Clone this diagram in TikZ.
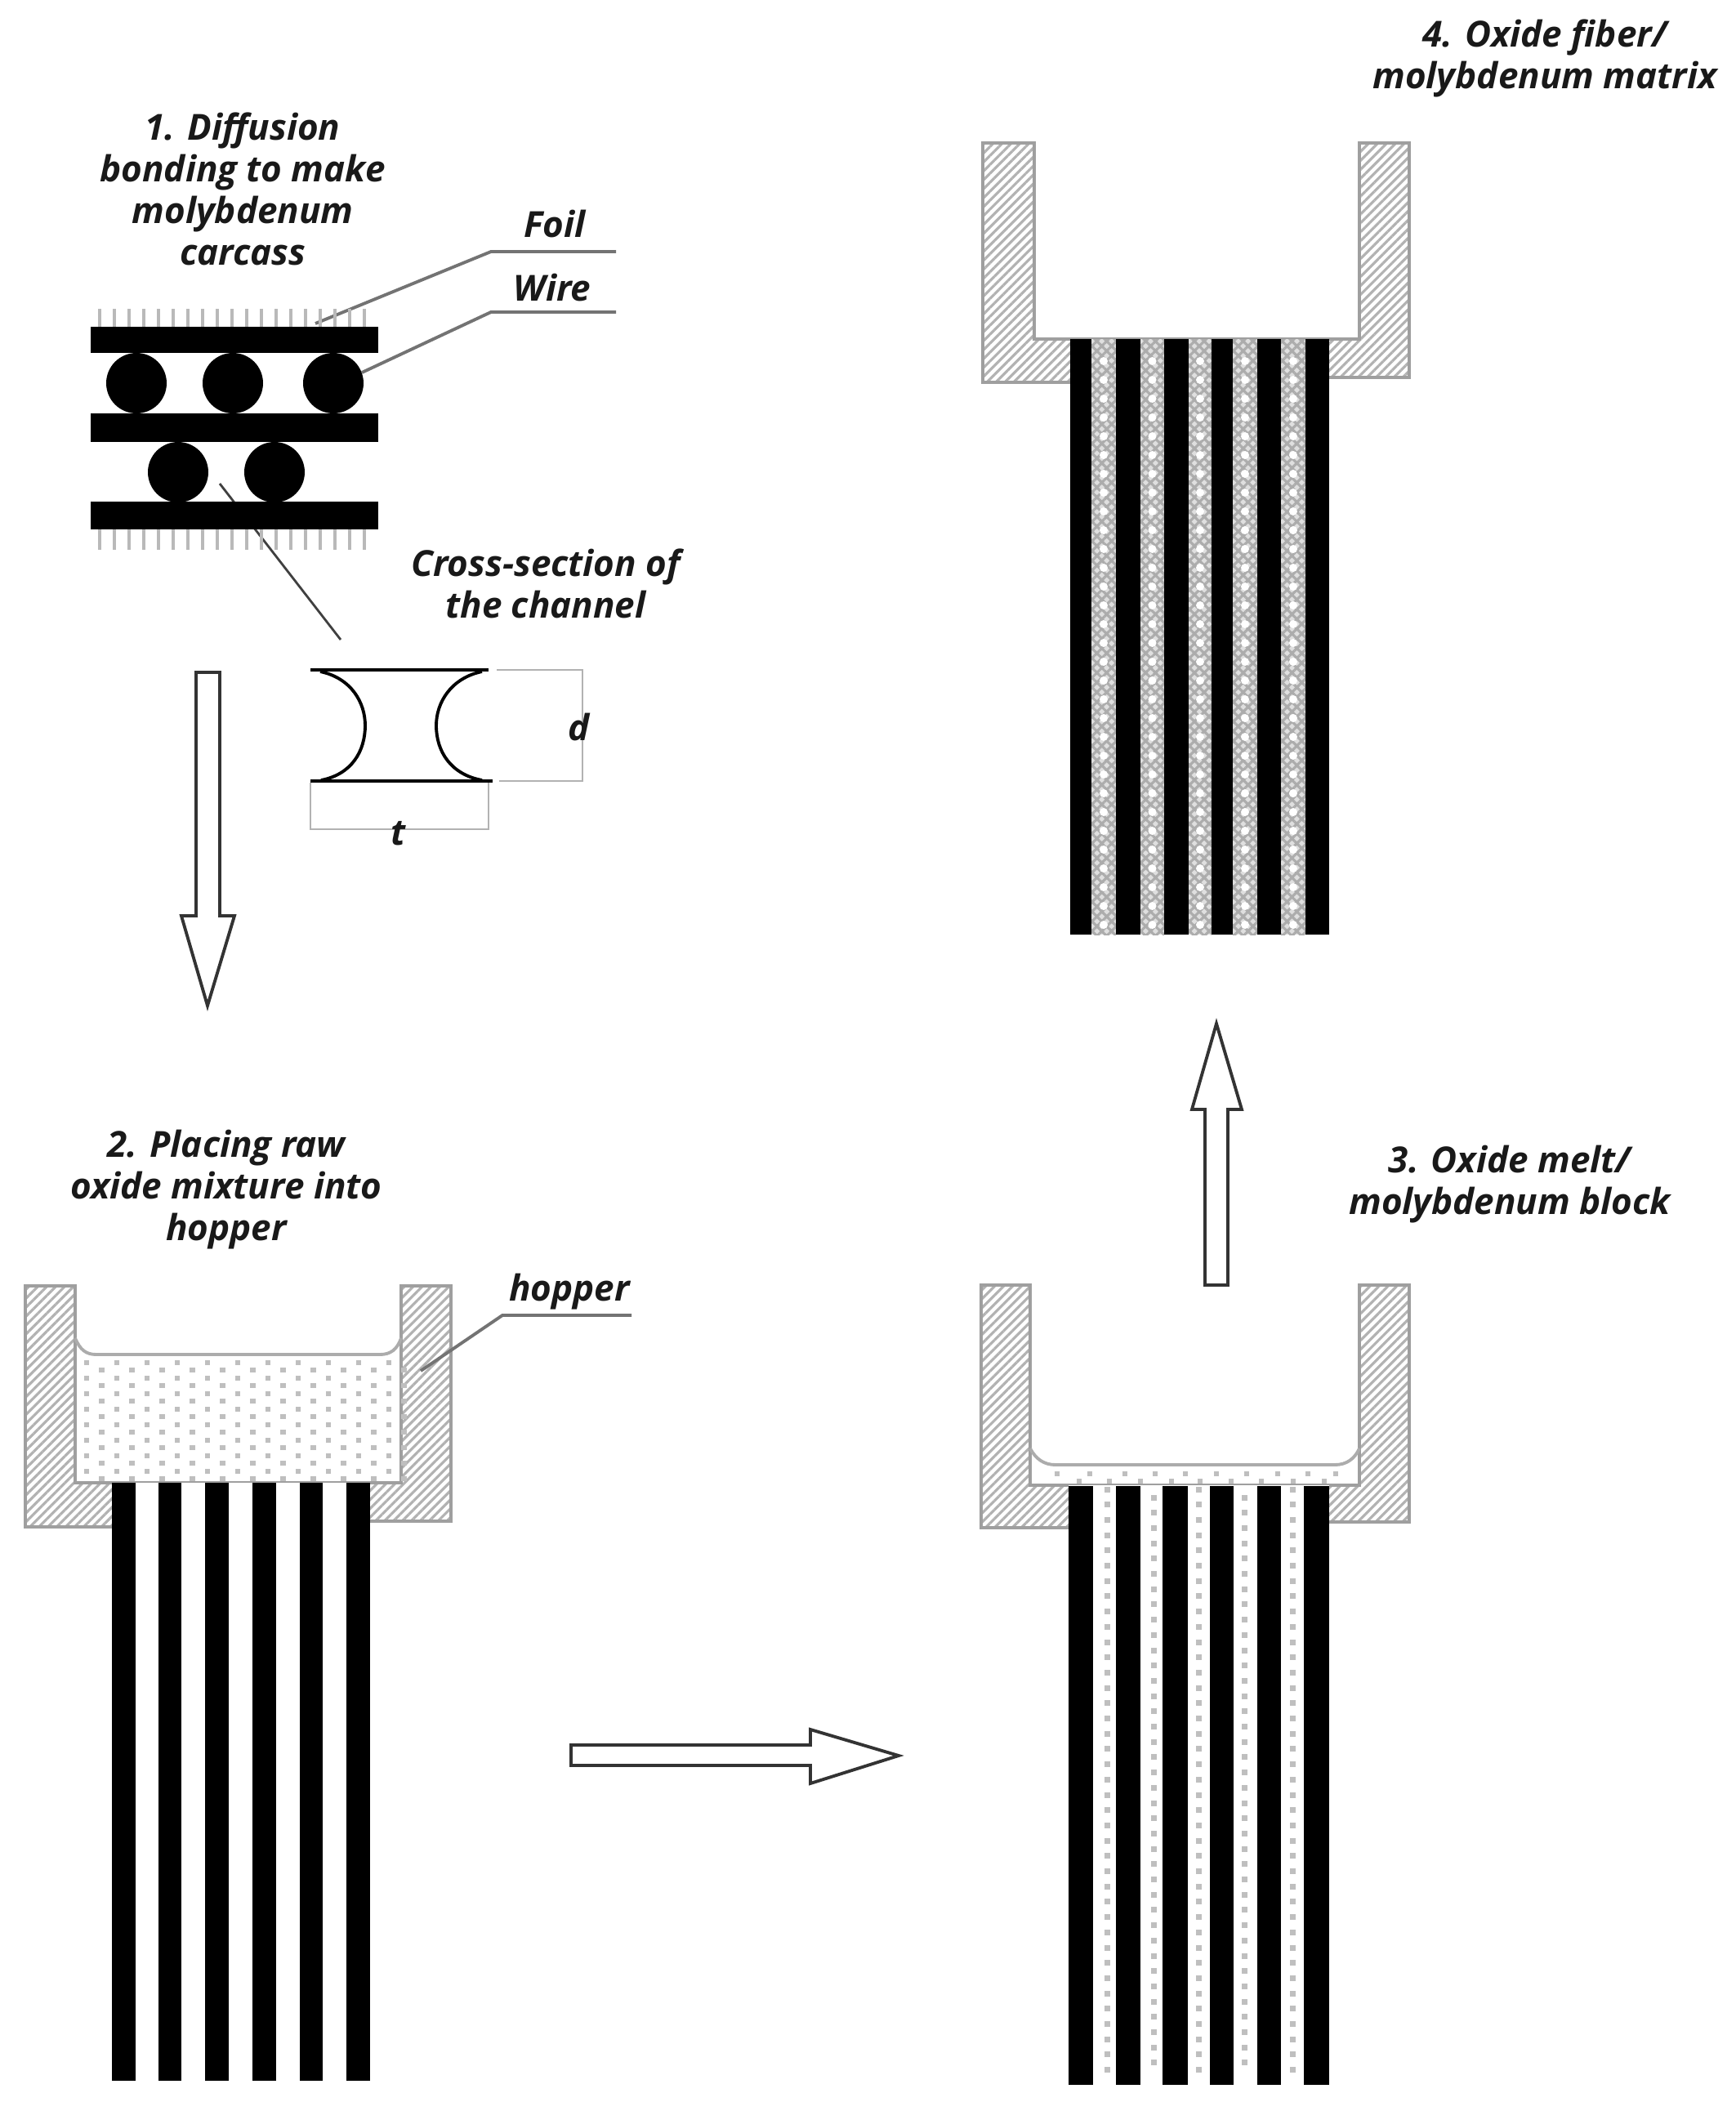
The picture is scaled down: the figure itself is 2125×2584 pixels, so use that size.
\documentclass[tikz,border=0pt]{standalone}
\usepackage{fontspec}
\setmainfont{Open Sans}
\usetikzlibrary{patterns.meta}

\begin{document}
\begin{tikzpicture}[x=0.01cm,y=-0.01cm,
    steptext/.style={align=center, inner sep=0pt, text=black!90, font=\fontsize{12.5}{14.5}\selectfont\itshape\bfseries},
    leader/.style={draw=black!55, line width=1.1pt},
    dimline/.style={draw=gray!60, line width=0.8pt},
    hairline/.style={draw=gray!55, line width=1.2pt},
    hollowarrow/.style={draw=black!80, fill=white, line width=1.1pt, line join=miter},
    hatchwall/.style={draw=gray!75, line width=1.2pt, pattern={Lines[angle=45,distance=2.2pt,line width=0.9pt]}, pattern color=gray!60},
    crosswall/.style={pattern={Hatch[angle=45,distance=2.4pt,line width=0.9pt]}, pattern color=gray!65},
    grain/.style={fill=gray!50},
    meltline/.style={draw=gray!65, line width=1.1pt}]
    \useasboundingbox (0,0) rectangle (2125,2584);

    % Leaders (the channel one runs behind the foil)
    \coordinate (foilend) at (386,396);
    \coordinate (foilknee) at (601,308);
    \coordinate (foilrule) at (754,308);
    \coordinate (wireend) at (443,456);
    \coordinate (wireknee) at (601,382);
    \coordinate (wirerule) at (754,382);
    \coordinate (channelstart) at (269,592);
    \coordinate (channelend) at (417,783);
    \draw[draw=black!75, line width=0.8pt] (channelstart) -- (channelend);
    \draw[leader] (foilend) -- (foilknee) -- (foilrule);
    \draw[leader] (wireend) -- (wireknee) -- (wirerule);

    % Carcass
    \foreach \x in {122,140,...,462} {
        \draw[hairline] (\x,378) -- (\x,400);
        \draw[hairline] (\x,648) -- (\x,673);
    }
    \fill (111,400) rectangle (463,432);
    \fill (111,506) rectangle (463,541);
    \fill (111,614) rectangle (463,648);
    \foreach \x in {167,285,408} \fill (\x,469) circle[radius=37];
    \foreach \x in {218,336} \fill (\x,578) circle[radius=37];

    % Cross-section of the channel
    \draw[black, line width=1.4pt] (380,820) -- (598,820);
    \draw[black, line width=1.4pt] (380,956) -- (603,956);
    \draw[black, line width=1.1pt] (392,822) .. controls (430,830) and (447,860) .. (447,888) .. controls (447,920) and (430,948) .. (393,955);
    \draw[black, line width=1.1pt] (590,822) .. controls (552,830) and (534,860) .. (534,888) .. controls (534,920) and (552,948) .. (590,955);
    \draw[dimline] (608,820) -- (713,820) -- (713,956) -- (611,956);
    \draw[dimline] (380,958) -- (380,1015) -- (598,1015) -- (598,958);

    % Hopper, step 2
    \draw[hatchwall] (31,1574) -- (92,1574) -- (92,1815) -- (491,1815) -- (491,1574) -- (552,1574) -- (552,1862) -- (300,1862) -- (300,1869) -- (31,1869) -- cycle;
    \foreach \xg in {106,143,...,480} \foreach \yg in {1668,1687,...,1812} {
        \fill[grain] (\xg-3.2,\yg-3.2) rectangle (\xg+3.2,\yg+3.2);
        \fill[grain] (\xg+15.3,\yg+6) rectangle (\xg+21.7,\yg+12.4);
    }
    \draw[meltline] (92,1638) .. controls (98,1652) and (105,1658) .. (118,1658) -- (465,1658) .. controls (478,1658) and (486,1652) .. (491,1638);
    \fill[white] (137,1815) rectangle (453,1875);
    \foreach \xa/\xb in {137/166,194/222,251/280,309/338,367/395,424/453}
        \fill (\xa,1815) rectangle (\xb,2547);
    \coordinate (hopperend) at (515,1678);
    \coordinate (hopperknee) at (615,1610);
    \coordinate (hopperrule) at (773,1610);
    \draw[leader] (hopperend) -- (hopperknee) -- (hopperrule);

    % Hopper, step 3
    \draw[hatchwall] (1201,1573) -- (1261,1573) -- (1261,1818) -- (1664,1818) -- (1664,1573) -- (1725,1573) -- (1725,1863) -- (1450,1863) -- (1450,1870) -- (1201,1870) -- cycle;
    \draw[meltline] (1261,1773) .. controls (1268,1786) and (1278,1793) .. (1292,1793) -- (1634,1793) .. controls (1648,1793) and (1658,1786) .. (1664,1773);
    \foreach \xg in {1294,1334,1377,1414,1451,1489,1526,1564,1601,1635}
        \fill[grain] (\xg-3.2,1800.8) rectangle (\xg+3.2,1807.2);
    \foreach \xg in {1321,1358,1396,1434,1469,1507,1544,1583,1621}
        \fill[grain] (\xg-3.2,1809.8) rectangle (\xg+3.2,1816.2);
    \fill[white] (1308,1818) rectangle (1627,1876);
    \foreach \xa/\xb in {1308/1338,1366/1396,1423/1454,1481/1510,1539/1568,1596/1627}
        \fill (\xa,1819) rectangle (\xb,2552);
    \foreach \xg/\ys in {1355/1823,1412/1833,1467/1823,1523/1833,1582/1823} {
        \pgfmathsetmacro{\ynext}{\ys+18.7}
        \foreach \yg in {\ys,\ynext,...,2540}
            \fill[grain] (\xg-3.5,\yg-3.5) rectangle (\xg+3.5,\yg+3.5);
    }

    % Hopper, step 4
    \draw[hatchwall] (1203,175) -- (1266,175) -- (1266,415) -- (1664,415) -- (1664,175) -- (1725,175) -- (1725,462) -- (1450,462) -- (1450,468) -- (1203,468) -- cycle;
    \foreach \xa/\xb in {1336/1366,1396/1425,1455/1483,1509/1539,1568/1598} {
        \fill[gray!25] (\xa,415) rectangle (\xb,1144);
        \fill[crosswall] (\xa,415) rectangle (\xb,1144);
        \foreach \yg in {442,465,...,1140}
            \fill[white] ({(\xa+\xb)/2},\yg) circle[radius=5];
    }
    \foreach \xa/\xb in {1310/1336,1366/1396,1425/1455,1483/1509,1539/1568,1598/1627}
        \fill (\xa,415) rectangle (\xb,1144);

    % Process arrows
    \draw[hollowarrow] (240,823) -- (269,823) -- (269,1121) -- (287,1121) -- (254,1231) -- (222,1121) -- (240,1121) -- cycle;
    \draw[hollowarrow] (699,2136) -- (992,2136) -- (992,2117) -- (1100,2149) -- (992,2183) -- (992,2161) -- (699,2161) -- cycle;
    \draw[hollowarrow] (1475,1573) -- (1475,1358) -- (1459,1358) -- (1489,1253) -- (1520,1358) -- (1503,1358) -- (1503,1573) -- cycle;

    % Labels
    \node[steptext] (stepone) at (297,231) {1. Diffusion\\bonding to make\\molybdenum\\carcass};
    \node[steptext] (foillabel) at (679,274) {Foil};
    \node[steptext] (wirelabel) at (676,352) {Wire};
    \node[steptext] (channellabel) at (668,714) {Cross-section of\\the channel};
    \node[steptext] (dlabel) at (709,890) {d};
    \node[steptext] (tlabel) at (488,1020) {t};
    \node[steptext] (steptwo) at (277,1456) {2. Placing raw\\oxide mixture into\\hopper};
    \node[steptext] (hopperlabel) at (697,1581) {hopper};
    \node[steptext] (stepthree) at (1848,1450) {3. Oxide melt/\\molybdenum block};
    \node[steptext] (stepfour) at (1891,71) {4. Oxide fiber/\\molybdenum matrix};
\end{tikzpicture}
\end{document}
